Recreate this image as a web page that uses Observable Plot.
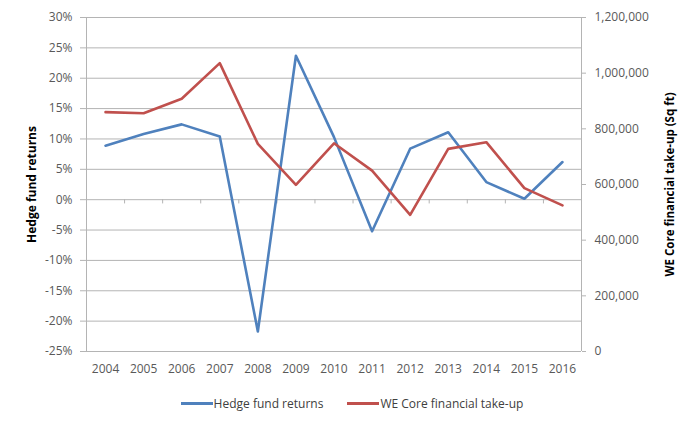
<!DOCTYPE html>
<html><head><meta charset="utf-8">
<script src="https://cdn.jsdelivr.net/npm/d3@7"></script>
<script src="https://cdn.jsdelivr.net/npm/@observablehq/plot@0.6"></script>
<style>
body{margin:0;background:#fff;font-family:"Open Sans",sans-serif}
#legend{display:flex;justify-content:center;align-items:center;height:30px;font-size:12px;color:#404040;padding-left:8px}
.item{display:flex;align-items:center;margin:0 12px}
.swatch{width:32px;height:3px;margin-right:1px}
</style></head><body><div id="chart"></div><div id="legend"></div>
<script>
const years = [2004,2005,2006,2007,2008,2009,2010,2011,2012,2013,2014,2015,2016];
const hedgeReturns = [8.9,10.8,12.4,10.4,-21.7,23.7,10.3,-5.2,8.4,11.1,2.9,0.15,6.2];
const takeUp = [860000,856000,908000,1036000,746000,599000,748000,650000,491000,728000,752000,587000,525000];
const leftTicks = [-25,-20,-15,-10,-5,0,5,10,15,20,25,30];
const rightTicks = [0,200000,400000,600000,800000,1000000,1200000];
const seriesNames = ["Hedge fund returns","WE Core financial take-up"];
const axisTitles = ["Hedge fund returns","WE Core financial take-up (Sq ft)"];
const colors = ["#4f81bd","#c0504d"];

const yMin = -25, yMax = 30, rMax = 1200000;
const toPct = v => yMin + v / rMax * (yMax - yMin);
const fromPct = p => (p - yMin) / (yMax - yMin) * rMax;

const hedge = years.map((y,i) => ({year:y, value:hedgeReturns[i]}));
const take = years.map((y,i) => ({year:y, value:toPct(takeUp[i])}));
const lo = years[0]-0.5, hi = years[years.length-1]+0.5;
const boundaries = years.slice(1).map(y => y-0.5);
const grid = "#b4b4b4";

const chart = Plot.plot({
  width: 696, height: 388,
  marginLeft: 86, marginRight: 115, marginTop: 17, marginBottom: 37,
  style: {fontFamily: "Open Sans, sans-serif", fontSize: "12px", background: "#fff"},
  x: {domain: [lo, hi]},
  y: {domain: [yMin, yMax]},
  marks: [
    Plot.ruleY(leftTicks, {stroke: grid, strokeWidth: 1}),
    Plot.ruleX([lo, hi], {stroke: grid}),
    Plot.ruleX(boundaries, {y1: 0, y2: -0.7, stroke: grid}),
    Plot.axisY({anchor: "left", ticks: leftTicks, tickFormat: d => d + "%", tickSize: 6, tickPadding: 8, stroke: grid, color: "#595959", label: null}),
    Plot.axisY({anchor: "right", ticks: rightTicks.map(toPct), tickFormat: p => d3.format(",")(Math.round(fromPct(p))), tickSize: 4, tickPadding: 9, stroke: grid, color: "#595959", label: null}),
    Plot.axisX({ticks: years, tickFormat: d => String(d), tickSize: 0, tickPadding: 13, color: "#595959", label: null}),
    Plot.text([axisTitles[0]], {frameAnchor: "left", textAnchor: "middle", rotate: -90, dx: -54, fontWeight: "bold", fill: "#000", fontSize: 12}),
    Plot.text([axisTitles[1]], {frameAnchor: "right", textAnchor: "middle", rotate: -90, dx: 89, fontWeight: "bold", fill: "#000", fontSize: 11.5}),
    Plot.line(hedge, {x: "year", y: "value", stroke: colors[0], strokeWidth: 2.6}),
    Plot.line(take, {x: "year", y: "value", stroke: colors[1], strokeWidth: 2.6})
  ]
});
document.getElementById("chart").appendChild(chart);
const leg = document.getElementById("legend");
seriesNames.forEach((n,i) => {
  const it = document.createElement("div"); it.className = "item";
  const sw = document.createElement("div"); sw.className = "swatch"; sw.style.background = colors[i];
  const t = document.createElement("span"); t.textContent = n;
  it.appendChild(sw); it.appendChild(t); leg.appendChild(it);
});
</script></body></html>
